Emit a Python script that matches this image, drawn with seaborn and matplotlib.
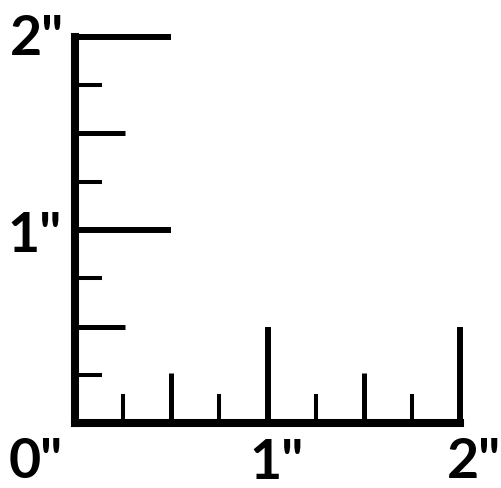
import matplotlib
matplotlib.use("Agg")
import matplotlib.pyplot as plt
import seaborn as sns

# ruler marks, in inches
tick_pos = [0.25, 0.5, 0.75, 1.0, 1.25, 1.5, 1.75, 2.0]
left_tick_len = [0.14, 0.26, 0.14, 0.5, 0.14, 0.26, 0.14, 0.5]
bottom_tick_len = [0.15, 0.26, 0.15, 0.5, 0.15, 0.26, 0.15, 0.5]
axis_len = 2.0

# labels: (text, x, y)
labels = ['2"', '1"', '0"', '1"', '2"']
label_x = [-0.197, -0.208, -0.203, 1.049, 2.073]
label_y = [1.905, 0.884, -0.283, -0.288, -0.283]

sns.set_theme(style="white")
plt.rcParams['font.family'] = ['Lato', 'DejaVu Sans']

fig = plt.figure(figsize=(5.02, 4.88), dpi=100)
ax = fig.add_axes([0, 0, 1, 1])
ax.set_xlim(-75 / 192.5, 427 / 192.5)
ax.set_ylim(-65 / 193, 423 / 193)
ax.set_axis_off()


def tick_width(length):
    if length >= 0.5:
        return 4.3
    if length >= 0.2:
        return 3.6
    return 2.9


# main axes
ax.plot([0, 0], [0, axis_len], color='black', lw=5.8, solid_capstyle='projecting')
ax.plot([0, axis_len], [0, 0], color='black', lw=5.8, solid_capstyle='projecting')

for p, ln in zip(tick_pos, left_tick_len):
    ax.plot([0, ln], [p, p], color='black', lw=tick_width(ln), solid_capstyle='butt')

for p, ln in zip(tick_pos, bottom_tick_len):
    ax.plot([p, p], [0, ln], color='black', lw=tick_width(ln), solid_capstyle='butt')

for t, x, y in zip(labels, label_x, label_y):
    ax.text(x, y, t, ha='center', va='baseline', fontsize=40, fontweight='bold', color='black')

plt.savefig('out.png', dpi=100)
